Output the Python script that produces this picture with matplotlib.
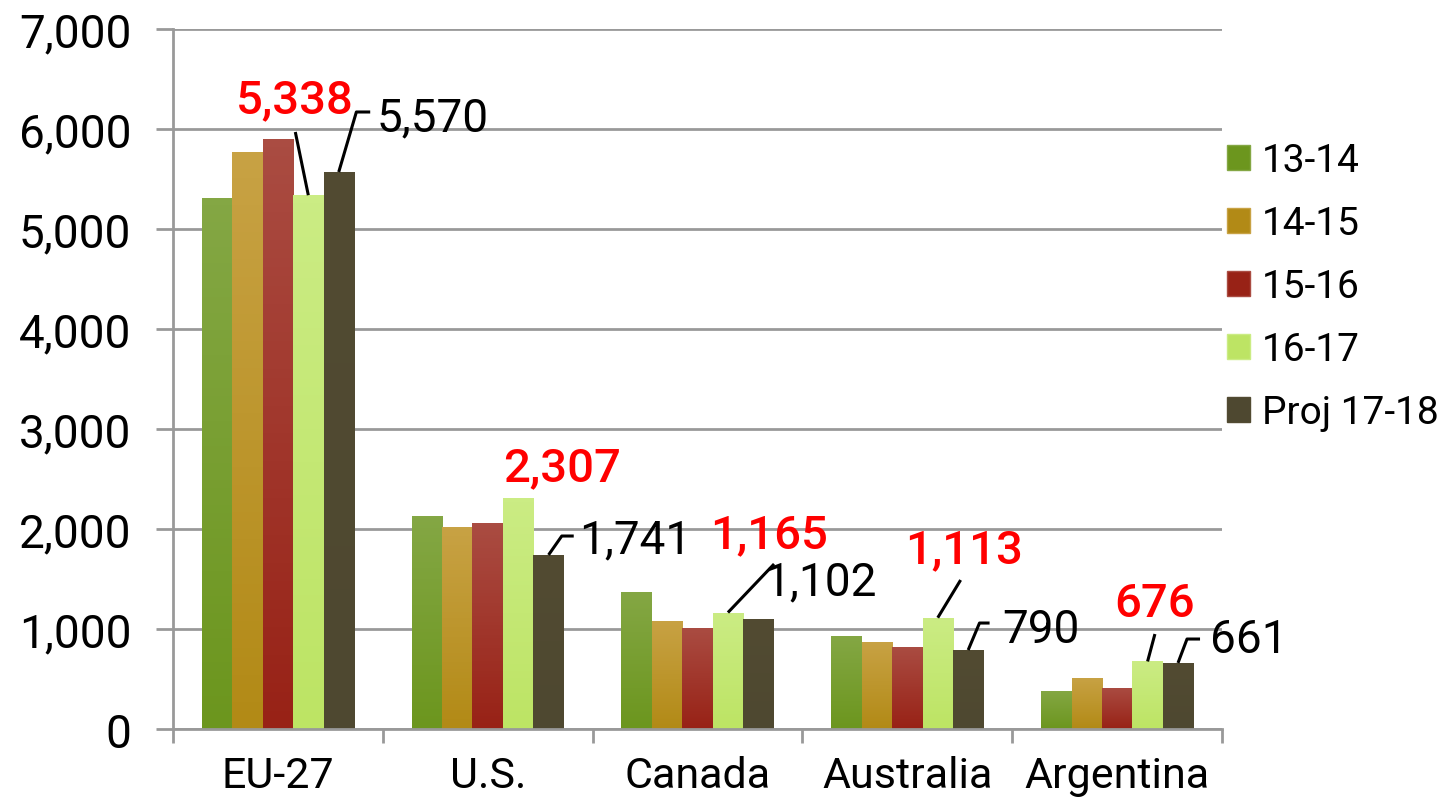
import matplotlib
matplotlib.use("Agg")
import matplotlib.pyplot as plt
import numpy as np
from matplotlib.colors import LinearSegmentedColormap
from matplotlib.patches import Patch

plt.rcParams['font.family'] = ['Roboto', 'DejaVu Sans']

# data
countries = ['EU-27', 'U.S.', 'Canada', 'Australia', 'Argentina']
seasons = ['13-14', '14-15', '15-16', '16-17', 'Proj 17-18']
v1314 = [5310, 2130, 1370, 930, 380]
v1415 = [5770, 2020, 1080, 870, 510]
v1516 = [5900, 2060, 1010, 820, 410]
v1617 = [5338, 2307, 1165, 1113, 676]
v1718 = [5570, 1741, 1102, 790, 661]
series = [v1314, v1415, v1516, v1617, v1718]

# gradient colours (top, bottom) for each series
tops = ['#84a744', '#c8a244', '#aa4c42', '#cbec84', '#524b32']
bottoms = ['#6c961e', '#b28a16', '#982216', '#bde464', '#4e4830']

fig = plt.figure(figsize=(14.5, 8.04), dpi=100)
ax = fig.add_axes([0.1193, 0.092, 0.7235, 0.8707])

x = np.arange(len(countries))
w = 0.145
for k, vals in enumerate(series):
    bars = ax.bar(x + (k - 2) * w, vals, w, color=bottoms[k], zorder=3, linewidth=0)
    cmap = LinearSegmentedColormap.from_list('g%d' % k, [tops[k], bottoms[k]])
    grad = np.linspace(0, 1, 64).reshape(-1, 1)
    for b in bars:
        bx, by = b.get_x(), b.get_height()
        im = ax.imshow(grad, extent=[bx, bx + w, 0, by], aspect='auto',
                       cmap=cmap, origin='upper', zorder=4)
        im.set_clip_path(b)

ax.set_xlim(-0.5, 4.5)
ax.set_ylim(0, 7000)

grey = '#999999'
ax.set_yticks(range(0, 7001, 1000))
ax.set_yticklabels(['{:,}'.format(v) for v in range(0, 7001, 1000)])
ax.yaxis.grid(True, color=grey, linewidth=2, zorder=0)
ax.tick_params(axis='y', direction='out', length=12, width=2, color=grey,
               labelsize=33, pad=18)
ax.set_xticks(x)
ax.set_xticklabels(countries)
ax.set_xticks(np.arange(-0.5, 5, 1), minor=True)
ax.tick_params(axis='x', which='major', length=0, labelsize=31, pad=19)
ax.tick_params(axis='x', which='minor', direction='out', length=10, width=2, color=grey)
for s in ['top', 'right']:
    ax.spines[s].set_visible(False)
for s in ['left', 'bottom']:
    ax.spines[s].set_color(grey)
    ax.spines[s].set_linewidth(2)
    ax.spines[s].set_zorder(5)

# data labels: (country index, series index, text pos, align, leader points, red?)
lab_fs = 33
labels = [
    (0, 3, (0.083, 6300), 'center', [(0.083, 5970)], True),
    (0, 4, (0.47, 6120), 'left', [(0.374, 6170), (0.44, 6170)], False),
    (1, 3, (1.353, 2620), 'center', [], True),
    (1, 4, (1.434, 1900), 'left', [(1.353, 1930), (1.41, 1930)], False),
    (2, 3, (2.34, 1950), 'center', [(2.365, 1650)], True),
    (2, 4, (2.318, 1480), 'left', [], False),
    (3, 3, (3.27, 1800), 'center', [(3.254, 1490)], True),
    (3, 4, (3.454, 1000), 'left', [(3.344, 1060), (3.392, 1060)], False),
    (4, 3, (4.18, 1260), 'center', [(4.18, 950)], True),
    (4, 4, (4.443, 900), 'left', [(4.333, 900), (4.395, 900)], False),
]
for ci, si, (tx, ty), ha, pts, red in labels:
    val = series[si][ci]
    ax.text(tx, ty, '{:,}'.format(val), ha=ha, va='center', fontsize=lab_fs + (1 if red else 0),
            color='red' if red else 'black', fontweight='medium' if red else 'normal',
            zorder=6)
    if pts:
        bx = x[ci] + (si - 2) * w
        xs = [bx] + [p[0] for p in pts]
        ys = [val] + [p[1] for p in pts]
        ax.plot(xs, ys, color='black', linewidth=2.2, zorder=6, solid_capstyle='butt')

handles = [Patch(facecolor=bottoms[k], edgecolor=tops[k]) for k in range(5)]
ax.legend(handles, seasons, loc='upper left', bbox_to_anchor=(0.982, 0.872),
          frameon=False, fontsize=28, handlelength=0.6, handleheight=0.6,
          handletextpad=0.3, labelspacing=0.67, borderaxespad=0.2)

fig.savefig('out.png', dpi=100)
